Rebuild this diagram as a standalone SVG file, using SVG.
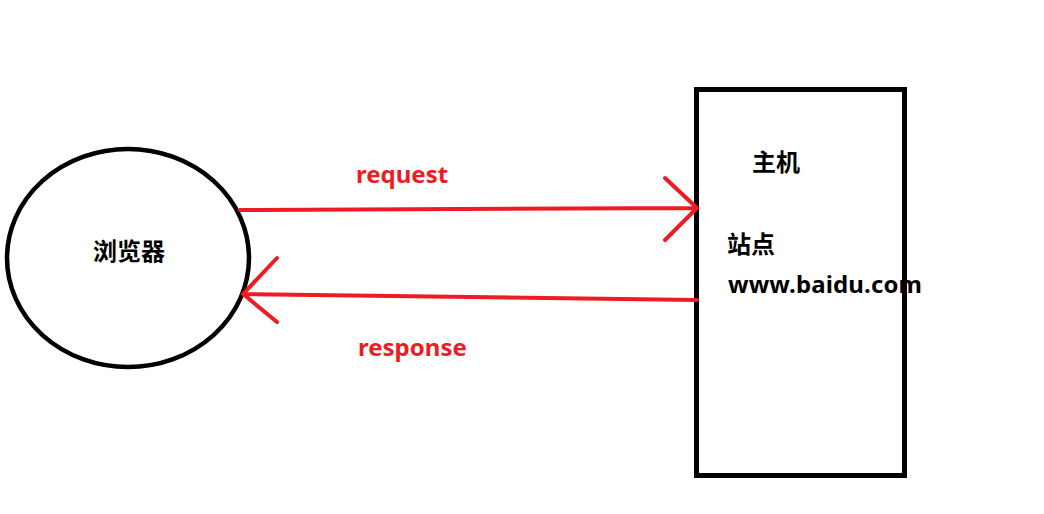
<svg xmlns="http://www.w3.org/2000/svg" width="1044" height="514" viewBox="0 0 1044 514">
<style>
.shape{fill:none;stroke:#000;}
.conn{fill:none;stroke:#ed1c24;stroke-width:4;stroke-linecap:round;stroke-linejoin:round;}
.lbl{font-family:"Noto Sans","Noto Sans CJK SC",sans-serif;font-weight:bold;font-size:24px;}
.red{fill:#ed1c24;}
.blk{fill:#000;}
</style>
<rect width="1044" height="514" fill="#fff"/>
<g id="browser">
<ellipse class="shape" cx="128" cy="258" rx="121" ry="109" stroke-width="4.5"/>
<text class="lbl blk" x="129" y="260" text-anchor="middle">浏览器</text>
</g>
<g id="host">
<rect class="shape" x="696.5" y="89.5" width="208" height="386" stroke-width="5"/>
<text class="lbl blk" x="752" y="171">主机</text>
<text class="lbl blk" x="727" y="253">站点</text>
<text class="lbl blk" x="728" y="293" textLength="194" lengthAdjust="spacing">www.baidu.com</text>
</g>
<g id="connectors">
<path class="conn" d="M240 210 L697 208 M665 178 L697 208 L665 240"/>
<path class="conn" d="M697 300 L243 294 M277 258 L243 294 L277 322"/>
<text class="lbl red" x="356" y="183">request</text>
<text class="lbl red" x="358" y="356">response</text>
</g>
</svg>
